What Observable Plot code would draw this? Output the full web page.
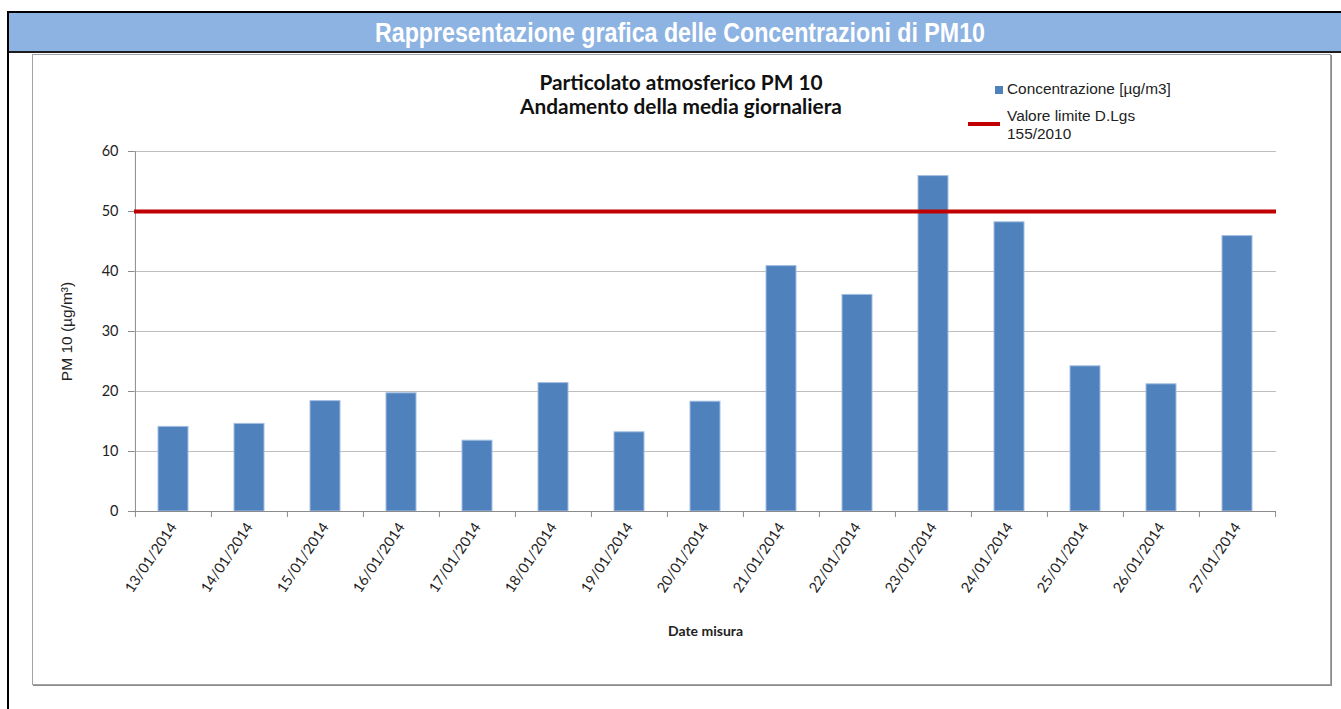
<!DOCTYPE html>
<html><head><meta charset="utf-8">
<script src="https://cdn.jsdelivr.net/npm/d3@7"></script>
<script src="https://cdn.jsdelivr.net/npm/@observablehq/plot@0.6"></script>
<style>
body{margin:0;background:#fff;width:1341px;height:709px;position:relative;overflow:hidden;font-family:Lato,sans-serif;}
#leftbar{position:absolute;left:7px;top:11px;width:2px;height:698px;background:#000;}
#topbar{position:absolute;left:7px;top:11px;right:0;height:2px;background:#000;}
#band{position:absolute;left:9px;top:13px;right:0;height:38px;background:#8DB3E2;border-bottom:2px solid #1e1e1e;}
#hdr{position:absolute;left:671px;top:20px;white-space:nowrap;color:#fff;font:bold 27px "Liberation Sans",sans-serif;transform-origin:center center;}
#box{position:absolute;left:32px;top:54px;width:1297px;height:629px;border:1px solid #a3a3a3;box-shadow:1px 1px 0 #8a8a8a;background:#fff;}
.t{position:absolute;white-space:nowrap;}
#title{left:681px;top:70px;transform:translateX(-50%);text-align:center;font:bold 17px Lato,sans-serif;line-height:24px;color:#111;}
.leg{font:14px "Liberation Sans",Arial,sans-serif;color:#222;transform-origin:left center;transform:scaleX(1.1);}
#chart{position:absolute;left:0;top:140px;}
</style></head>
<body>
<div id="leftbar"></div><div id="topbar"></div>
<div id="band"><span id="hdr">Rappresentazione grafica delle Concentrazioni di PM10</span></div>
<div id="box"></div>
<div class="t" id="title"><div id="t1">Particolato atmosferico PM 10</div><div id="t2">Andamento della media giornaliera</div></div>
<div class="t" style="left:995px;top:86px;width:8px;height:8px;background:#4F81BD;"></div>
<div class="t leg" style="left:1007px;top:81px;">Concentrazione [µg/m3]</div>
<div class="t" style="left:968px;top:122px;width:32px;height:4px;background:#C00000;"></div>
<div class="t leg" style="left:1007px;top:107px;line-height:18px;">Valore limite D.Lgs<br>155/2010</div>
<div id="chart"></div>
<script>
const dates = ["13/01/2014","14/01/2014","15/01/2014","16/01/2014","17/01/2014","18/01/2014","19/01/2014","20/01/2014","21/01/2014","22/01/2014","23/01/2014","24/01/2014","25/01/2014","26/01/2014","27/01/2014"];
const concentrazione = [14.1, 14.6, 18.4, 19.7, 11.8, 21.4, 13.2, 18.3, 40.9, 36.1, 55.9, 48.2, 24.2, 21.2, 45.9];
const valoreLimite = 50;
const yTicks = [0, 10, 20, 30, 40, 50, 60];

const rows = dates.map((d, i) => ({data: d, valore: concentrazione[i]}));
const W = 1341, H = 540, ML = 134, MR = 65, MT = 11, MB = 169;
const step = (W - ML - MR) / dates.length;
const grey = "#8c8c8c";

const chart = Plot.plot({
  width: W, height: H,
  marginLeft: ML, marginRight: MR, marginTop: MT, marginBottom: MB,
  style: {fontFamily: "Lato, sans-serif", color: "#222", background: "transparent", overflow: "visible"},
  x: {type: "band", domain: dates, paddingInner: 0.6, paddingOuter: 0.3, label: null},
  y: {domain: [0, 60], label: null},
  marks: [
    Plot.gridY(yTicks.filter(t => t > 0), {stroke: "#bdbdbd", strokeOpacity: 1}),
    Plot.barY(rows, {x: "data", y: "valore", fill: "#4F81BD", stroke: "#A3BEE2", strokeWidth: 1}),
    Plot.ruleY([0], {stroke: grey}),
    Plot.ruleX([dates[0]], {y1: 0, y2: 60, dx: -step / 2, stroke: grey}),
    Plot.axisY({ticks: yTicks, tickSize: 6, tickPadding: 10, fontSize: 14.5, stroke: grey,
      label: "PM 10 (µg/m³)", labelAnchor: "center", labelArrow: "none", labelOffset: 74}),
    Plot.axisX({tickSize: 0, tickRotate: -56, tickPadding: 13, fontSize: 14.5,
      label: "Date misura", labelAnchor: "center", labelArrow: "none", labelOffset: 124}),
    Plot.axisX({tickSize: 6, stroke: grey, tickFormat: () => "", label: null, dx: -step / 2}),
    Plot.axisX({ticks: [dates[dates.length - 1]], tickSize: 6, stroke: grey, tickFormat: () => "", label: null, dx: step / 2}),
    Plot.ruleY([valoreLimite], {stroke: "#C00000", strokeWidth: 4})
  ]
});
document.getElementById("chart").appendChild(chart);

// style axis labels
chart.querySelectorAll("[aria-label='y-axis label'] text").forEach(t => {
  t.style.fontFamily = "'Liberation Sans', Arial, sans-serif"; t.style.fontSize = "15.5px";
  t.textContent = t.textContent.replace(/[↑→←↓]\s*|\s*[↑→←↓]/g, "");
});
chart.querySelectorAll("[aria-label='x-axis label'] text").forEach(t => {
  t.style.fontWeight = "bold"; t.style.fontSize = "14px";
  t.textContent = t.textContent.replace(/[↑→←↓]\s*|\s*[↑→←↓]/g, "");
});

// condensed header: scale horizontally to the reference width
const hdr = document.getElementById("hdr");
const hw = hdr.getBoundingClientRect().width;
hdr.style.transform = `translate(-50%,-50%) scaleX(${610 / hw})`;

// title size fitted to reference width
const t2 = document.getElementById("t2");
const fs0 = parseFloat(getComputedStyle(document.getElementById("title")).fontSize);
const span = document.createElement("span"); span.textContent = t2.textContent; t2.textContent = ""; t2.appendChild(span);
const wv = span.getBoundingClientRect().width;
document.getElementById("title").style.fontSize = (fs0 * 322 / wv) + "px";
</script>
</body></html>
